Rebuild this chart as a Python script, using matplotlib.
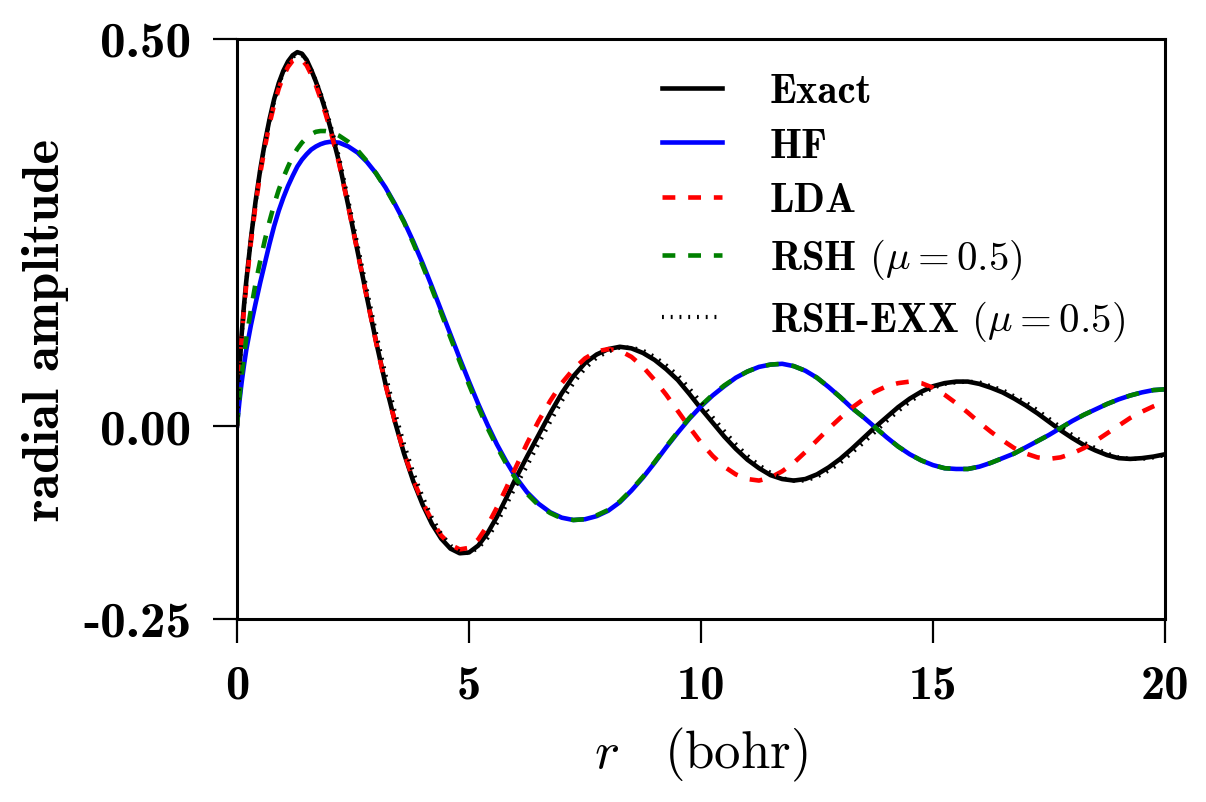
import matplotlib
matplotlib.use("Agg")
import matplotlib.pyplot as plt

plt.rcParams['mathtext.fontset'] = 'cm'
plt.rcParams['axes.unicode_minus'] = False

# radial grid (bohr)
r = [0, 0.05, 0.1, 0.15, 0.2, 0.3, 0.4, 0.5, 0.6, 0.7, 0.8, 0.9, 1.0, 1.1, 1.2, 1.3,
     1.4, 1.5, 1.6, 1.7, 1.8, 1.9, 2.0,
     2.2, 2.4, 2.6, 2.8, 3.0, 3.2, 3.4, 3.6, 3.8, 4.0, 4.2, 4.4, 4.6, 4.8, 5.0, 5.2,
     5.4, 5.6, 5.8, 6.0,
     6.25, 6.5, 6.75, 7.0, 7.25, 7.5, 7.75, 8.0, 8.25, 8.5, 8.75, 9.0, 9.25, 9.5,
     9.75, 10.0, 10.25, 10.5, 10.75, 11.0, 11.25, 11.5, 11.75, 12.0, 12.25, 12.5,
     12.75, 13.0, 13.25, 13.5, 13.75, 14.0, 14.25, 14.5, 14.75, 15.0, 15.25, 15.5,
     15.75, 16.0, 16.25, 16.5, 16.75, 17.0, 17.25, 17.5, 17.75, 18.0, 18.25, 18.5,
     18.75, 19.0, 19.25, 19.5, 19.75, 20.0]

exact = [0, 0.068, 0.118, 0.155, 0.187, 0.242, 0.290, 0.331, 0.366, 0.396, 0.422, 0.443,
         0.459, 0.471, 0.479, 0.483, 0.481, 0.473, 0.460, 0.445, 0.428, 0.409, 0.388,
         0.341, 0.284, 0.225, 0.166, 0.108, 0.054, 0.006, -0.036, -0.072, -0.102,
         -0.127, -0.146, -0.159, -0.165, -0.164, -0.155, -0.139, -0.118, -0.094, -0.069,
         -0.040, -0.012, 0.016, 0.042, 0.064, 0.081, 0.092, 0.099, 0.102, 0.100, 0.094,
         0.085, 0.073, 0.059, 0.041, 0.022, 0.004, -0.014, -0.030, -0.044, -0.055,
         -0.064, -0.069, -0.071, -0.069, -0.063, -0.054, -0.043, -0.030, -0.016, -0.002,
         0.011, 0.024, 0.035, 0.044, 0.051, 0.055, 0.057, 0.057, 0.054, 0.049, 0.043,
         0.035, 0.026, 0.016, 0.005, -0.006, -0.016, -0.025, -0.032, -0.038, -0.042,
         -0.043, -0.042, -0.040, -0.037]

hf = [0, 0.030, 0.056, 0.078, 0.098, 0.130, 0.158, 0.185, 0.210, 0.235, 0.258, 0.278,
      0.295, 0.310, 0.323, 0.335, 0.344, 0.351, 0.357, 0.361, 0.364, 0.366, 0.367,
      0.366, 0.361, 0.353, 0.341, 0.326, 0.308, 0.287, 0.264, 0.238, 0.210, 0.180,
      0.149, 0.118, 0.087, 0.057, 0.028, 0.001, -0.024, -0.046, -0.066,
      -0.086, -0.101, -0.112, -0.119, -0.122, -0.121, -0.117, -0.110, -0.099, -0.084,
      -0.067, -0.048, -0.028, -0.009, 0.009, 0.025, 0.039, 0.051, 0.062, 0.070, 0.076,
      0.079, 0.080, 0.077, 0.071, 0.062, 0.050, 0.037, 0.023, 0.011, -0.002, -0.015,
      -0.027, -0.037, -0.045, -0.051, -0.055, -0.056, -0.056, -0.053, -0.048, -0.042,
      -0.036, -0.028, -0.020, -0.012, -0.003, 0.006, 0.014, 0.021, 0.028, 0.034,
      0.039, 0.043, 0.046, 0.047]

lda = [0, 0.064, 0.113, 0.150, 0.182, 0.237, 0.285, 0.326, 0.360, 0.390, 0.415, 0.436,
       0.452, 0.464, 0.472, 0.475, 0.473, 0.466, 0.454, 0.440, 0.423, 0.405, 0.385,
       0.339, 0.283, 0.224, 0.165, 0.107, 0.053, 0.006, -0.035, -0.070, -0.099, -0.123,
       -0.142, -0.154, -0.160, -0.158, -0.147, -0.129, -0.106, -0.081, -0.055,
       -0.023, 0.006, 0.032, 0.055, 0.073, 0.087, 0.096, 0.099, 0.097, 0.089, 0.076,
       0.059, 0.040, 0.019, -0.002, -0.022, -0.039, -0.053, -0.063, -0.069, -0.071,
       -0.067, -0.059, -0.048, -0.034, -0.019, -0.004, 0.010, 0.023, 0.034, 0.044,
       0.051, 0.055, 0.057, 0.055, 0.049, 0.040, 0.029, 0.017, 0.004, -0.008, -0.019,
       -0.029, -0.036, -0.041, -0.043, -0.041, -0.036, -0.029, -0.020, -0.010, 0.000,
       0.010, 0.018, 0.025, 0.031]

rsh = [0, 0.035, 0.064, 0.090, 0.113, 0.150, 0.184, 0.213, 0.240, 0.264, 0.286, 0.305,
       0.321, 0.335, 0.348, 0.358, 0.366, 0.372, 0.377, 0.380, 0.381, 0.381, 0.380,
       0.375, 0.367, 0.356, 0.342, 0.326, 0.307, 0.286, 0.263, 0.236, 0.207, 0.177,
       0.146, 0.114, 0.083, 0.053, 0.024, -0.003, -0.027, -0.049, -0.068,
       -0.088, -0.103, -0.113, -0.120, -0.122, -0.121, -0.116, -0.109, -0.098, -0.083,
       -0.066, -0.047, -0.027, -0.008, 0.010, 0.026, 0.040, 0.052, 0.062, 0.070, 0.076,
       0.079, 0.080, 0.077, 0.071, 0.062, 0.050, 0.037, 0.023, 0.011, -0.002, -0.015,
       -0.027, -0.037, -0.045, -0.051, -0.055, -0.056, -0.056, -0.053, -0.048, -0.042,
       -0.036, -0.028, -0.020, -0.012, -0.003, 0.006, 0.014, 0.021, 0.028, 0.034,
       0.039, 0.043, 0.046, 0.047]

rsh_exx = [0, 0.066, 0.116, 0.153, 0.185, 0.240, 0.288, 0.329, 0.364, 0.394, 0.420,
           0.441, 0.457, 0.469, 0.477, 0.480, 0.479, 0.472, 0.460, 0.446, 0.430, 0.412,
           0.392,
           0.347, 0.291, 0.233, 0.175, 0.119, 0.066, 0.018, -0.024, -0.061, -0.092,
           -0.119, -0.140, -0.155, -0.163, -0.165, -0.158, -0.145, -0.126, -0.103, -0.079,
           -0.052, -0.023, 0.005, 0.032, 0.055, 0.074, 0.088, 0.096, 0.101, 0.101, 0.097,
           0.089, 0.078, 0.065, 0.048, 0.030, 0.011, -0.007, -0.024, -0.039, -0.051,
           -0.061, -0.068, -0.071, -0.071, -0.066, -0.058, -0.048, -0.035, -0.022, -0.008,
           0.006, 0.019, 0.031, 0.041, 0.049, 0.054, 0.056, 0.057, 0.056, 0.051, 0.046,
           0.038, 0.030, 0.020, 0.009, -0.002, -0.012, -0.022, -0.029, -0.036, -0.041,
           -0.043, -0.043, -0.041, -0.038]

for _name, _s in [('exact', exact), ('hf', hf), ('lda', lda), ('rsh', rsh), ('rsh_exx', rsh_exx)]:
    assert len(_s) == len(r), (_name, len(_s), len(r))

labels = [r'Exact', r'HF', r'LDA', r'RSH $(\mu=0.5)$', r'RSH-EXX $(\mu=0.5)$']
xticks = [0, 5, 10, 15, 20]
yticks = [-0.25, 0.00, 0.50]
yticklabels = ['-0.25', '0.00', '0.50']

fig = plt.figure(figsize=(12.06, 8.03), dpi=100)
ax = fig.add_axes([237/1206, 1-620/803, 928/1206, 580/803])

ax.plot(r, exact, color='black', lw=3.3, label=labels[0])
ax.plot(r, hf, color='blue', lw=3.3, label=labels[1])
ax.plot(r, lda, color='red', lw=3.3, linestyle=(0, (2.8, 2.8)), label=labels[2])
ax.plot(r, rsh, color='green', lw=3.3, linestyle=(0, (2.8, 2.8)), label=labels[3])
ax.plot(r, rsh_exx, color='black', lw=3.0, linestyle=(0, (0.45, 1.65)), label=labels[4])

ax.set_xlim(0, 20)
ax.set_ylim(-0.25, 0.50)

ax.set_xticks(xticks)
ax.set_xticklabels([str(t) for t in xticks], family='cmb10', size=35)
ax.set_yticks(yticks)
ax.set_yticklabels(yticklabels, family='cmb10', size=37)
ax.tick_params(direction='out', length=17, width=1.6, pad=16, color='black')

for s in ax.spines.values():
    s.set_linewidth(2.2)

ax.set_ylabel('radial amplitude', family='cmb10', size=38, labelpad=10)
ax.set_xlabel(r'$r\ \ \ \mathrm{(bohr)}$', size=38, labelpad=13)

leg = ax.legend(loc='upper left', bbox_to_anchor=((662-237)/928, 1-(74-40)/580),
                frameon=False, prop={'family': 'cmb10', 'size': 29.5},
                handlelength=1.46, handletextpad=1.17, labelspacing=0.43,
                borderaxespad=0, borderpad=0)

fig.savefig('out.png', dpi=100)
